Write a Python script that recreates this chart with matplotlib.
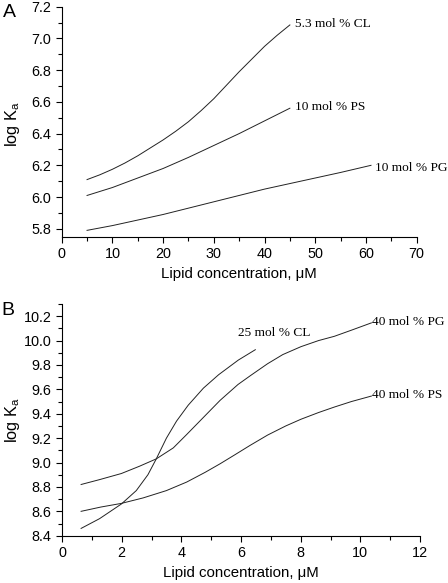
import matplotlib
matplotlib.use("Agg")
import matplotlib.pyplot as plt
from matplotlib.ticker import MultipleLocator

plt.rcParams["font.family"] = "Liberation Sans"
plt.rcParams["mathtext.default"] = "regular"

# panel A: lipid concentration (uM) vs log Ka
a_cl_x = [5, 7.5, 10, 12.5, 15, 17.5, 20, 22.5, 25, 27.5, 30, 32.5, 35, 37.5, 40, 42.5, 45]
a_cl_y = [6.11, 6.14, 6.175, 6.215, 6.26, 6.31, 6.36, 6.415, 6.475, 6.545, 6.62, 6.705, 6.79, 6.87, 6.95, 7.02, 7.085]
a_ps_x = [5, 10, 15, 20, 25, 30, 35, 40, 45]
a_ps_y = [6.01, 6.06, 6.12, 6.18, 6.25, 6.325, 6.40, 6.48, 6.56]
a_pg_x = [5, 10, 15, 20, 25, 30, 35, 40, 45, 50, 55, 61]
a_pg_y = [5.79, 5.82, 5.855, 5.89, 5.93, 5.97, 6.01, 6.05, 6.085, 6.12, 6.155, 6.20]

# panel B
b_cl_x = [0.64, 1.26, 1.99, 2.49, 2.88, 3.16, 3.50, 3.84, 4.23, 4.74, 5.25, 5.91, 6.48]
b_cl_y = [8.46, 8.54, 8.66, 8.77, 8.90, 9.03, 9.20, 9.34, 9.47, 9.61, 9.72, 9.84, 9.925]
b_pg_x = [0.64, 1.26, 1.99, 2.60, 3.16, 3.73, 4.18, 4.70, 5.30, 5.90, 6.33, 6.89, 7.40, 8.01, 8.60, 9.13, 9.70, 10.37]
b_pg_y = [8.82, 8.86, 8.91, 8.97, 9.03, 9.12, 9.23, 9.36, 9.51, 9.64, 9.715, 9.81, 9.885, 9.95, 10.00, 10.035, 10.085, 10.145]
b_ps_x = [0.64, 1.30, 1.99, 2.72, 3.50, 4.18, 4.80, 5.30, 5.77, 6.30, 6.89, 7.50, 8.01, 8.60, 9.13, 9.70, 10.37]
b_ps_y = [8.60, 8.635, 8.665, 8.71, 8.77, 8.84, 8.92, 8.99, 9.06, 9.14, 9.225, 9.30, 9.355, 9.41, 9.455, 9.50, 9.545]

fig = plt.figure(figsize=(4.48, 5.83), dpi=100)
axA = fig.add_axes([0.1377, 0.594, 0.7923, 0.3945])
axB = fig.add_axes([0.1384, 0.0811, 0.7991, 0.3975])

lc = "#222222"
lw = 0.7
serif = "Liberation Serif"
fs_ann = 9.6

axA.plot(a_cl_x, a_cl_y, color=lc, lw=lw)
axA.plot(a_ps_x, a_ps_y, color=lc, lw=lw)
axA.plot(a_pg_x, a_pg_y, color=lc, lw=lw)
axA.text(46, 7.09, "5.3 mol % CL", family=serif, fontsize=fs_ann, va="center")
axA.text(46, 6.57, "10 mol % PS", family=serif, fontsize=fs_ann, va="center")
axA.text(61.8, 6.185, "10 mol % PG", family=serif, fontsize=fs_ann, va="center")
axA.set_xlim(0, 70)
axA.set_ylim(5.75, 7.2)
axA.xaxis.set_major_locator(MultipleLocator(10))
axA.xaxis.set_minor_locator(MultipleLocator(5))
axA.yaxis.set_major_locator(MultipleLocator(0.2))
axA.yaxis.set_minor_locator(MultipleLocator(0.1))
axA.set_xlabel("Lipid concentration, μM", fontsize=10.8, labelpad=4)
axA.set_ylabel("log K$_a$", fontsize=11.8)
axA.yaxis.set_label_coords(-0.112, 0.49)

axB.plot(b_cl_x, b_cl_y, color=lc, lw=lw)
axB.plot(b_pg_x, b_pg_y, color=lc, lw=lw)
axB.plot(b_ps_x, b_ps_y, color=lc, lw=lw)
axB.text(5.9, 10.06, "25 mol % CL", family=serif, fontsize=fs_ann, va="center")
axB.text(10.4, 10.155, "40 mol % PG", family=serif, fontsize=fs_ann, va="center")
axB.text(10.4, 9.55, "40 mol % PS", family=serif, fontsize=fs_ann, va="center")
axB.set_xlim(0, 12)
axB.set_ylim(8.4, 10.3)
axB.xaxis.set_major_locator(MultipleLocator(2))
axB.xaxis.set_minor_locator(MultipleLocator(1))
axB.yaxis.set_major_locator(MultipleLocator(0.2))
axB.yaxis.set_minor_locator(MultipleLocator(0.1))
axB.set_xlabel("Lipid concentration, μM", fontsize=10.8, labelpad=4)
axB.set_ylabel("log K$_a$", fontsize=11.8)
axB.yaxis.set_label_coords(-0.111, 0.5)

for ax in (axA, axB):
    ax.spines["top"].set_visible(False)
    ax.spines["right"].set_visible(False)
    ax.spines["left"].set_linewidth(0.8)
    ax.spines["bottom"].set_linewidth(0.8)
    ax.tick_params(which="major", length=4, width=0.8, labelsize=10.4)
    ax.tick_params(which="minor", length=3, width=0.8)

fig.text(0.006, 0.979, "A", fontsize=14, va="center")
fig.text(0.004, 0.468, "B", fontsize=14, va="center")

fig.savefig("out.png", dpi=100)
